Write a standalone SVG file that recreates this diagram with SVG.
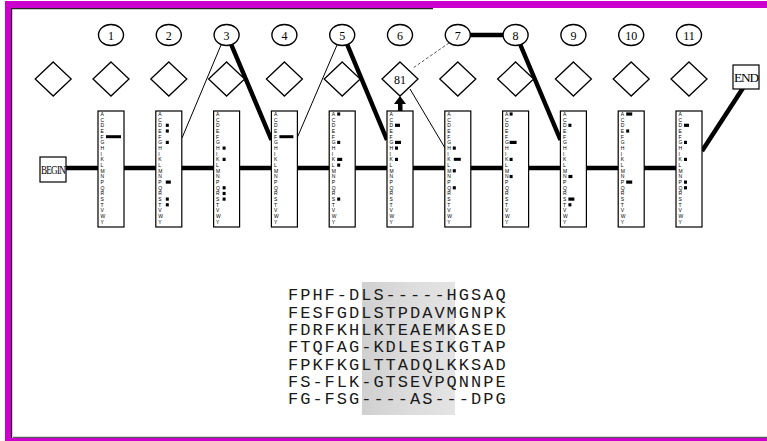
<svg xmlns="http://www.w3.org/2000/svg" width="767" height="441" viewBox="0 0 767 441">
<style>
.frame{fill:#cc00cc}
.circ{fill:#fff;stroke:#000;stroke-width:1.4}
.dia{fill:#fff;stroke:#000;stroke-width:1.3}
.box{fill:#fff;stroke:#000;stroke-width:1.2}
.num{font-family:"Liberation Serif",serif;font-size:12px;text-anchor:middle;fill:#000}
.lab{font-family:"Liberation Serif",serif;font-size:12px;text-anchor:middle;fill:#000;letter-spacing:-1px}
.aa{font-family:"Liberation Sans",sans-serif;font-size:5px;fill:#000}
.mk{fill:#000}
.thick{stroke:#000;stroke-width:4.5;fill:none}
.thin{stroke:#000;stroke-width:1;fill:none}
.dash{stroke:#555;stroke-width:1;stroke-dasharray:3,2;fill:none}
.seq{font-family:"Liberation Mono",monospace;font-size:17px;letter-spacing:2px;fill:#1a1a1a}
</style>
<defs>
<g id="letters">
<text class="aa" x="2.5" y="115.8">A</text><text class="aa" x="2.5" y="121.5">C</text><text class="aa" x="2.5" y="127.2">D</text><text class="aa" x="2.5" y="132.8">E</text><text class="aa" x="2.5" y="138.5">F</text><text class="aa" x="2.5" y="144.2">G</text><text class="aa" x="2.5" y="149.9">H</text><text class="aa" x="2.5" y="155.6">I</text><text class="aa" x="2.5" y="161.2">K</text><text class="aa" x="2.5" y="166.9">L</text><text class="aa" x="2.5" y="172.6">M</text><text class="aa" x="2.5" y="178.3">N</text><text class="aa" x="2.5" y="184">P</text><text class="aa" x="2.5" y="189.6">Q</text><text class="aa" x="2.5" y="195.3">R</text><text class="aa" x="2.5" y="201">S</text><text class="aa" x="2.5" y="206.7">T</text><text class="aa" x="2.5" y="212.4">V</text><text class="aa" x="2.5" y="218">W</text><text class="aa" x="2.5" y="223.7">Y</text>
</g>
<linearGradient id="shade" x1="0" y1="0" x2="1" y2="0">
<stop offset="0" stop-color="#d0d0d0"/><stop offset="0.5" stop-color="#dcdcdc"/><stop offset="1" stop-color="#e4e4e4"/>
</linearGradient>
</defs>
<rect width="767" height="441" fill="#fff"/>
<!-- frame -->
<rect class="frame" x="5" y="1" width="762" height="7"/>
<rect class="frame" x="5" y="1" width="6" height="440"/>
<rect class="frame" x="5" y="438" width="762" height="3"/>
<line x1="11" y1="8.7" x2="433" y2="8.7" stroke="#222" stroke-width="1.2"/>
<line x1="11.6" y1="8" x2="11.6" y2="438" stroke="#222" stroke-width="1.2"/>
<line x1="13" y1="437.3" x2="767" y2="437.3" stroke="#333" stroke-width="1"/>

<!-- connectors -->
<g id="connectors">
<line class="thick" x1="66" y1="168" x2="676" y2="168"/>
<line class="thick" x1="702" y1="151" x2="743" y2="88"/>
<line class="thin" x1="221" y1="45" x2="182" y2="138"/>
<line class="thick" x1="231" y1="44" x2="271.5" y2="140"/>
<line class="thin" x1="337" y1="45" x2="297.5" y2="137"/>
<line class="thick" x1="347" y1="44" x2="387" y2="140"/>
<line class="dash" x1="449" y1="43" x2="413" y2="68"/>
<line class="thick" x1="470" y1="35" x2="503" y2="35"/>
<line class="thick" x1="520" y1="44" x2="560.5" y2="140"/>
<line class="thin" x1="410" y1="89" x2="445" y2="148"/>
<rect x="398" y="102" width="4.5" height="9.5" fill="#000"/>
<polygon points="394,104 406,104 400,96" fill="#000"/>
</g>

<!-- delete states (circles) -->
<g id="d1"><ellipse class="circ" cx="111" cy="35" rx="12.5" ry="10.5"/><text class="num" x="111" y="39.5">1</text></g>
<g id="d2"><ellipse class="circ" cx="168.8" cy="35" rx="12.5" ry="10.5"/><text class="num" x="168.8" y="39.5">2</text></g>
<g id="d3"><ellipse class="circ" cx="226.6" cy="35" rx="12.5" ry="10.5"/><text class="num" x="226.6" y="39.5">3</text></g>
<g id="d4"><ellipse class="circ" cx="284.4" cy="35" rx="12.5" ry="10.5"/><text class="num" x="284.4" y="39.5">4</text></g>
<g id="d5"><ellipse class="circ" cx="342.2" cy="35" rx="12.5" ry="10.5"/><text class="num" x="342.2" y="39.5">5</text></g>
<g id="d6"><ellipse class="circ" cx="400" cy="35" rx="12.5" ry="10.5"/><text class="num" x="400" y="39.5">6</text></g>
<g id="d7"><ellipse class="circ" cx="457.8" cy="35" rx="12.5" ry="10.5"/><text class="num" x="457.8" y="39.5">7</text></g>
<g id="d8"><ellipse class="circ" cx="515.6" cy="35" rx="12.5" ry="10.5"/><text class="num" x="515.6" y="39.5">8</text></g>
<g id="d9"><ellipse class="circ" cx="573.4" cy="35" rx="12.5" ry="10.5"/><text class="num" x="573.4" y="39.5">9</text></g>
<g id="d10"><ellipse class="circ" cx="631.2" cy="35" rx="12.5" ry="10.5"/><text class="num" x="631.2" y="39.5">10</text></g>
<g id="d11"><ellipse class="circ" cx="689" cy="35" rx="12.5" ry="10.5"/><text class="num" x="689" y="39.5">11</text></g>

<!-- insert states (diamonds) -->
<g id="i0"><polygon class="dia" points="53.2,62 71.2,79 53.2,96 35.2,79"/></g>
<g id="i1"><polygon class="dia" points="111,62 129,79 111,96 93,79"/></g>
<g id="i2"><polygon class="dia" points="168.8,62 186.8,79 168.8,96 150.8,79"/></g>
<g id="i3"><polygon class="dia" points="226.6,62 244.6,79 226.6,96 208.6,79"/></g>
<g id="i4"><polygon class="dia" points="284.4,62 302.4,79 284.4,96 266.4,79"/></g>
<g id="i5"><polygon class="dia" points="342.2,62 360.2,79 342.2,96 324.2,79"/></g>
<g id="i6"><polygon class="dia" points="400,62 418,79 400,96 382,79"/><text class="num" x="400" y="83.5">81</text></g>
<g id="i7"><polygon class="dia" points="457.8,62 475.8,79 457.8,96 439.8,79"/></g>
<g id="i8"><polygon class="dia" points="515.6,62 533.6,79 515.6,96 497.6,79"/></g>
<g id="i9"><polygon class="dia" points="573.4,62 591.4,79 573.4,96 555.4,79"/></g>
<g id="i10"><polygon class="dia" points="631.2,62 649.2,79 631.2,96 613.2,79"/></g>
<g id="i11"><polygon class="dia" points="689,62 707,79 689,96 671,79"/></g>

<!-- begin / end -->
<g id="begin"><rect class="box" x="40" y="157" width="26" height="25"/><text class="lab" x="53" y="173.5" font-size="11" textLength="24" lengthAdjust="spacingAndGlyphs">BEGIN</text></g>
<g id="end"><rect class="box" x="733" y="65" width="26" height="24"/><text class="lab" x="746" y="81.5" textLength="24" lengthAdjust="spacingAndGlyphs">END</text></g>

<!-- match states (boxes) -->
<g id="m1" transform="translate(98,0)"><rect class="box" x="0" y="111" width="26" height="116"/><use href="#letters"/>
<rect class="mk" x="8" y="135.2" width="15" height="3"/></g>
<g id="m2" transform="translate(155.8,0)"><rect class="box" x="0" y="111" width="26" height="116"/><use href="#letters"/>
<rect class="mk" x="10" y="123.7" width="3" height="3.2"/><rect class="mk" x="10" y="129.4" width="3" height="3.2"/><rect class="mk" x="10" y="140.8" width="3" height="3.2"/><rect class="mk" x="10" y="180.5" width="5" height="3.2"/><rect class="mk" x="10" y="197.5" width="3" height="3.2"/><rect class="mk" x="10" y="203.2" width="3" height="3.2"/></g>
<g id="m3" transform="translate(213.6,0)"><rect class="box" x="0" y="111" width="26" height="116"/><use href="#letters"/>
<rect class="mk" x="9" y="146.5" width="3" height="3.2"/><rect class="mk" x="9" y="157.8" width="3" height="3.2"/><rect class="mk" x="9" y="186.2" width="3" height="3.2"/><rect class="mk" x="9" y="191.9" width="3" height="3.2"/><rect class="mk" x="9" y="197.5" width="3" height="3.2"/></g>
<g id="m4" transform="translate(271.4,0)"><rect class="box" x="0" y="111" width="26" height="116"/><use href="#letters"/>
<rect class="mk" x="8" y="135.2" width="14" height="3"/></g>
<g id="m5" transform="translate(329.2,0)"><rect class="box" x="0" y="111" width="26" height="116"/><use href="#letters"/>
<rect class="mk" x="8" y="112.4" width="3" height="3.2"/><rect class="mk" x="8" y="140.8" width="3" height="3.2"/><rect class="mk" x="8" y="157.8" width="5" height="3.2"/><rect class="mk" x="8" y="163.5" width="3" height="3.2"/><rect class="mk" x="8" y="197.5" width="3" height="3.2"/></g>
<g id="m6" transform="translate(387,0)"><rect class="box" x="0" y="111" width="26" height="116"/><use href="#letters"/>
<rect class="mk" x="8" y="123.7" width="5" height="3.2"/><rect class="mk" x="8" y="140.8" width="6" height="3.2"/><rect class="mk" x="8" y="146.5" width="3" height="3.2"/><rect class="mk" x="8" y="157.8" width="3" height="3.2"/></g>
<g id="m7" transform="translate(444.8,0)"><rect class="box" x="0" y="111" width="26" height="116"/><use href="#letters"/>
<rect class="mk" x="8" y="146.5" width="3" height="3.2"/><rect class="mk" x="9" y="157.8" width="7" height="3"/><rect class="mk" x="8" y="169.2" width="3" height="3.2"/><rect class="mk" x="8" y="186.2" width="3" height="3.2"/></g>
<g id="m8" transform="translate(502.6,0)"><rect class="box" x="0" y="111" width="26" height="116"/><use href="#letters"/>
<rect class="mk" x="7" y="112.4" width="3" height="3.2"/><rect class="mk" x="7" y="140.8" width="7" height="3.2"/><rect class="mk" x="7" y="157.8" width="3" height="3.2"/><rect class="mk" x="7" y="174.9" width="3" height="3.2"/></g>
<g id="m9" transform="translate(560.4,0)"><rect class="box" x="0" y="111" width="26" height="116"/><use href="#letters"/>
<rect class="mk" x="8" y="123.7" width="3" height="3.2"/><rect class="mk" x="8" y="174.9" width="4" height="3.2"/><rect class="mk" x="8" y="197.5" width="6" height="3.2"/><rect class="mk" x="8" y="203.2" width="3" height="3.2"/></g>
<g id="m10" transform="translate(618.2,0)"><rect class="box" x="0" y="111" width="26" height="116"/><use href="#letters"/>
<rect class="mk" x="8" y="112.4" width="6" height="3.2"/><rect class="mk" x="8" y="129.4" width="3" height="3.2"/><rect class="mk" x="8" y="180.5" width="6" height="3.2"/></g>
<g id="m11" transform="translate(676,0)"><rect class="box" x="0" y="111" width="26" height="116"/><use href="#letters"/>
<rect class="mk" x="8" y="123.7" width="5" height="3.2"/><rect class="mk" x="8" y="140.8" width="3" height="3.2"/><rect class="mk" x="8" y="157.8" width="3" height="3.2"/><rect class="mk" x="8" y="180.5" width="3" height="3.2"/><rect class="mk" x="8" y="186.2" width="3" height="3.2"/></g>

<!-- alignment -->
<g id="alignment">
<rect x="362" y="282" width="93" height="133" fill="url(#shade)"/>
<text class="seq" x="288" y="300">FPHF-DLS-----HGSAQ</text>
<text class="seq" x="288" y="317.5">FESFGDLSTPDAVMGNPK</text>
<text class="seq" x="288" y="335">FDRFKHLKTEAEMKASED</text>
<text class="seq" x="288" y="352.3">FTQFAG-KDLESIKGTAP</text>
<text class="seq" x="288" y="369.6">FPKFKGLTTADQLKKSAD</text>
<text class="seq" x="288" y="387">FS-FLK-GTSEVPQNNPE</text>
<text class="seq" x="288" y="404.3">FG-FSG----AS---DPG</text>
</g>
</svg>
